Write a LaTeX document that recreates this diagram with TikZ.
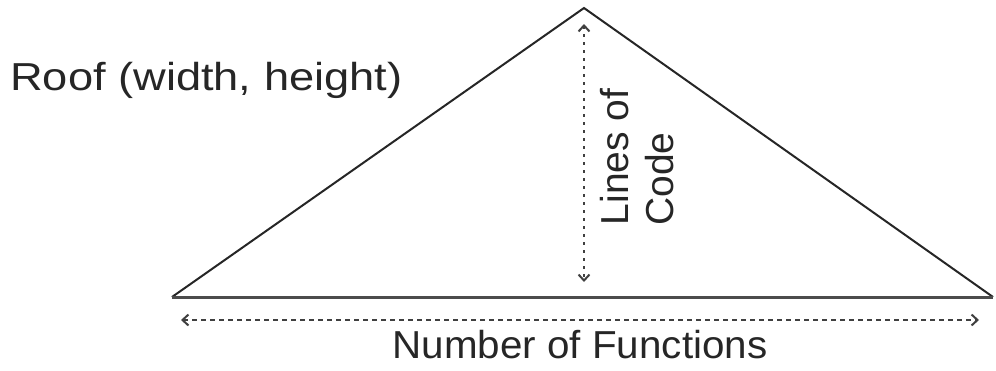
\documentclass[tikz,border=0pt]{standalone}
\usepackage{fontspec}
\setmainfont{Liberation Sans}
\usetikzlibrary{arrows.meta}
\begin{document}
\begin{tikzpicture}[x=1pt,y=-1pt,
  roofline/.style={draw=black!85, line width=2pt, line join=miter},
  baseline/.style={draw=black!70, line width=3pt},
  dimarrow/.style={draw=black!75, line width=2pt, dash pattern=on 5pt off 4pt,
    {Straight Barb[length=6pt,width=11pt,line width=2pt]}-{Straight Barb[length=6pt,width=11pt,line width=2pt]}},
  vdimarrow/.style={dimarrow, dash pattern=on 3pt off 5pt},
  lbl/.style={font=\fontsize{39}{45}\selectfont, text=black!85, inner sep=0pt}]
\useasboundingbox (0,0) rectangle (996,370);
\coordinate (apex) at (584,8);
\coordinate (bl) at (172,297);
\coordinate (br) at (993,297);
\draw[roofline] (bl) -- (apex) -- (br);
\draw[baseline] (bl) -- (br);
\coordinate (vt) at (584,24);
\coordinate (vb) at (584,282);
\draw[vdimarrow] (vt) -- (vb);
\coordinate (hl) at (181,320);
\coordinate (hr) at (979,320);
\draw[dimarrow] (hl) -- (hr);
\node[lbl, anchor=base west, xscale=1.16] (roof) at (10,90) {Roof (width, height)};
\node[lbl, anchor=base, xscale=1.035] (nf) at (580,358) {Number of Functions};
\node[lbl, anchor=base, rotate=90] (loc1) at (628,157) {Lines of};
\node[lbl, anchor=base, rotate=90] (loc2) at (673,179) {Code};
\end{tikzpicture}
\end{document}
